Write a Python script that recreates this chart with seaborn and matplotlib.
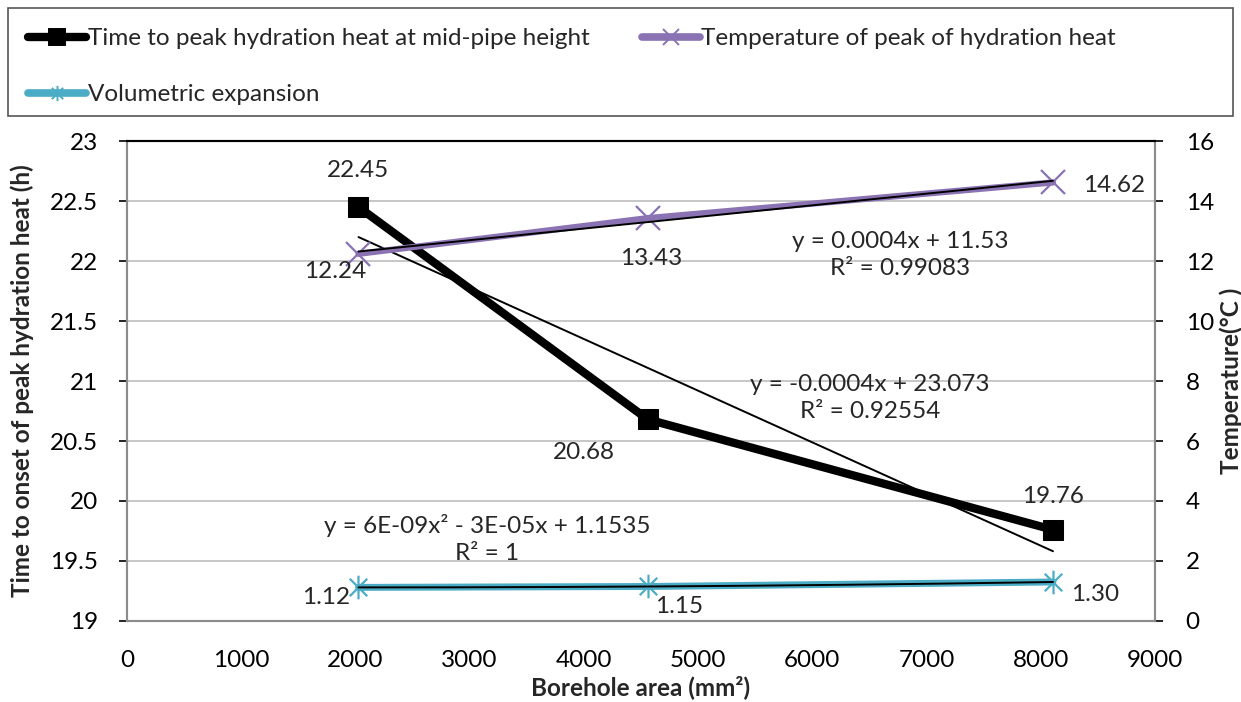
import numpy as np
import pandas as pd
import matplotlib
matplotlib.use("Agg")
import matplotlib.pyplot as plt
from matplotlib.path import Path
from matplotlib.patches import Rectangle
from matplotlib.lines import Line2D
import seaborn as sns

# Borehole areas (mm²) and measured responses
area = [2027, 4560, 8107]
time_to_peak = [22.45, 20.68, 19.76]          # h, left axis
peak_temperature = [12.24, 13.43, 14.62]      # °C, right axis
volumetric_expansion = [1.12, 1.15, 1.30]     # right axis

series_names = [
    "Time to peak hydration heat at mid-pipe height",
    "Temperature of peak of hydration heat",
    "Volumetric expansion",
]
temp_labels = ["12.24", "13.43", "14.62"]
expansion_labels = ["1.12", "1.15", "1.30"]
time_labels = ["22.45", "20.68", "19.76"]

x_ticks = list(range(0, 10000, 1000))
left_ticks = [19, 19.5, 20, 20.5, 21, 21.5, 22, 22.5, 23]
right_ticks = [0, 2, 4, 6, 8, 10, 12, 14, 16]

sns.set_theme(style="white")
plt.rcParams["font.family"] = ["Lato", "DejaVu Sans"]

BLACK = "#000000"
PURPLE = "#8A72B3"
CYAN = "#4BACC6"
GRID = "#BDBDBD"
SPINE = "#8C8C8C"

# Excel-style "star" marker: a cross with a vertical bar
star = Path(
    [(-1, -1), (1, 1), (-1, 1), (1, -1), (0, -1.35), (0, 1.35)],
    [Path.MOVETO, Path.LINETO, Path.MOVETO, Path.LINETO, Path.MOVETO, Path.LINETO],
)

fig = plt.figure(figsize=(12.41, 7.02), dpi=100)
ax = fig.add_axes([0.1023, 0.1154, 0.8284, 0.6837])
ax2 = ax.twinx()

df = pd.DataFrame({
    "area": area,
    "time": time_to_peak,
    "temp": peak_temperature,
    "exp": volumetric_expansion,
})

sns.lineplot(data=df, x="area", y="time", ax=ax, color=BLACK, lw=6,
             marker="s", markersize=14, markeredgecolor=BLACK,
             legend=False, zorder=3)
sns.lineplot(data=df, x="area", y="temp", ax=ax2, color=PURPLE, lw=4.5,
             marker="x", markersize=17, markeredgewidth=1.6,
             markeredgecolor=PURPLE, legend=False, zorder=3)
sns.lineplot(data=df, x="area", y="exp", ax=ax2, color=CYAN, lw=5,
             marker=star, markersize=17, markeredgewidth=1.6,
             markeredgecolor=CYAN, legend=False, zorder=3)

# Trendlines fitted to each series
xa = np.array(area, dtype=float)
xs = np.linspace(xa.min(), xa.max(), 200)
k_time = np.polyfit(xa, time_to_peak, 1)
k_temp = np.polyfit(xa, peak_temperature, 1)
k_exp = np.polyfit(xa, volumetric_expansion, 2)
ax.plot(xs, np.polyval(k_time, xs), color=BLACK, lw=1.4, zorder=4)
ax2.plot(xs, np.polyval(k_temp, xs), color=BLACK, lw=1.4, zorder=4)
ax2.plot(xs, np.polyval(k_exp, xs), color=BLACK, lw=1.4, zorder=4)

# Axes ranges and ticks
ax.set_xlim(0, 9000)
ax.set_ylim(19, 23)
ax2.set_ylim(0, 16)
ax.set_xticks(x_ticks)
ax.set_yticks(left_ticks)
ax.set_yticklabels([f"{t:g}" for t in left_ticks])
ax2.set_yticks(right_ticks)
ax.grid(axis="y", color=GRID, lw=1.2)
ax.set_axisbelow(True)

fs = 17.5
ax.tick_params(axis="x", labelsize=fs, colors="black", length=6,
               width=1.2, direction="out", pad=15)
ax.tick_params(axis="y", labelsize=fs, colors="black", length=6,
               width=1.2, direction="out", pad=15)
ax2.tick_params(axis="y", labelsize=fs, colors="black", length=6,
                width=1.2, direction="out", pad=16)
for a in (ax.xaxis, ax.yaxis, ax2.yaxis):
    for t in a.get_ticklines():
        t.set_color(SPINE)

for a in (ax, ax2):
    for side in ("left", "right", "bottom"):
        a.spines[side].set_color(SPINE)
        a.spines[side].set_linewidth(1.5)
    a.spines["top"].set_color(BLACK)
    a.spines["top"].set_linewidth(1.5)

ax.set_xlabel("Borehole area (mm²)", fontsize=fs, fontweight="bold", labelpad=3)
ax.set_ylabel("Time to onset of peak hydration heat (h)", fontsize=fs,
              fontweight="bold")
ax2.set_ylabel("Temperature(°C )", fontsize=fs, fontweight="bold")
ax.yaxis.set_label_coords(-0.090, 0.5)
ax2.yaxis.set_label_coords(1.063, 0.5)

# Data labels
def label_points(axis, xv, yv, texts, offsets):
    for x, y, t, (dx, dy) in zip(xv, yv, texts, offsets):
        axis.annotate(t, (x, y), xytext=(dx, dy), textcoords="offset pixels",
                      ha="center", va="center", fontsize=fs, zorder=6)

label_points(ax, area, time_to_peak, time_labels,
             [(0, 37), (-64, -33), (0, 33)])
label_points(ax2, area, peak_temperature, temp_labels,
             [(-23, -18), (3, -40), (61, -3)])
label_points(ax2, area, volumetric_expansion, expansion_labels,
             [(-32, -10), (31, -20), (42, -13)])

# Trendline equations
eq_kw = dict(ha="center", va="center", fontsize=fs, linespacing=1.35, zorder=6)
ax.text(6769, 22.05, "y = 0.0004x + 11.53\nR² = 0.99083", **eq_kw)
ax.text(6506, 20.855, "y = -0.0004x + 23.073\nR² = 0.92554", **eq_kw)
ax.text(3152, 19.68, "y = 6E-09x² - 3E-05x + 1.1535\nR² = 1", **eq_kw)

# Legend in a framed box across the top
fig.patches.append(Rectangle((8 / 1241, 1 - 116 / 702), 1225 / 1241, 108 / 702,
                             transform=fig.transFigure, fill=False,
                             edgecolor="#555555", lw=1.2))
handle_kw = dict(solid_capstyle="round", markersize=11, markeredgewidth=1.4)
handles = [
    Line2D([], [], color=BLACK, lw=6, marker="s", markeredgecolor=BLACK, **handle_kw),
    Line2D([], [], color=CYAN, lw=5.5, marker=star, markeredgecolor=CYAN, **handle_kw),
    Line2D([], [], color=PURPLE, lw=5.5, marker="x", markeredgecolor=PURPLE, **handle_kw),
]
labels = [series_names[0], series_names[2], series_names[1]]
fig.legend(handles, labels, loc="upper left",
           bbox_to_anchor=(28 / 1241, 1 - 28 / 702),
           ncol=2, frameon=False, fontsize=fs, handlelength=2.4,
           handletextpad=0.05, columnspacing=2.15, labelspacing=1.45,
           borderaxespad=0, borderpad=0)

fig.savefig("out.png", dpi=100)
